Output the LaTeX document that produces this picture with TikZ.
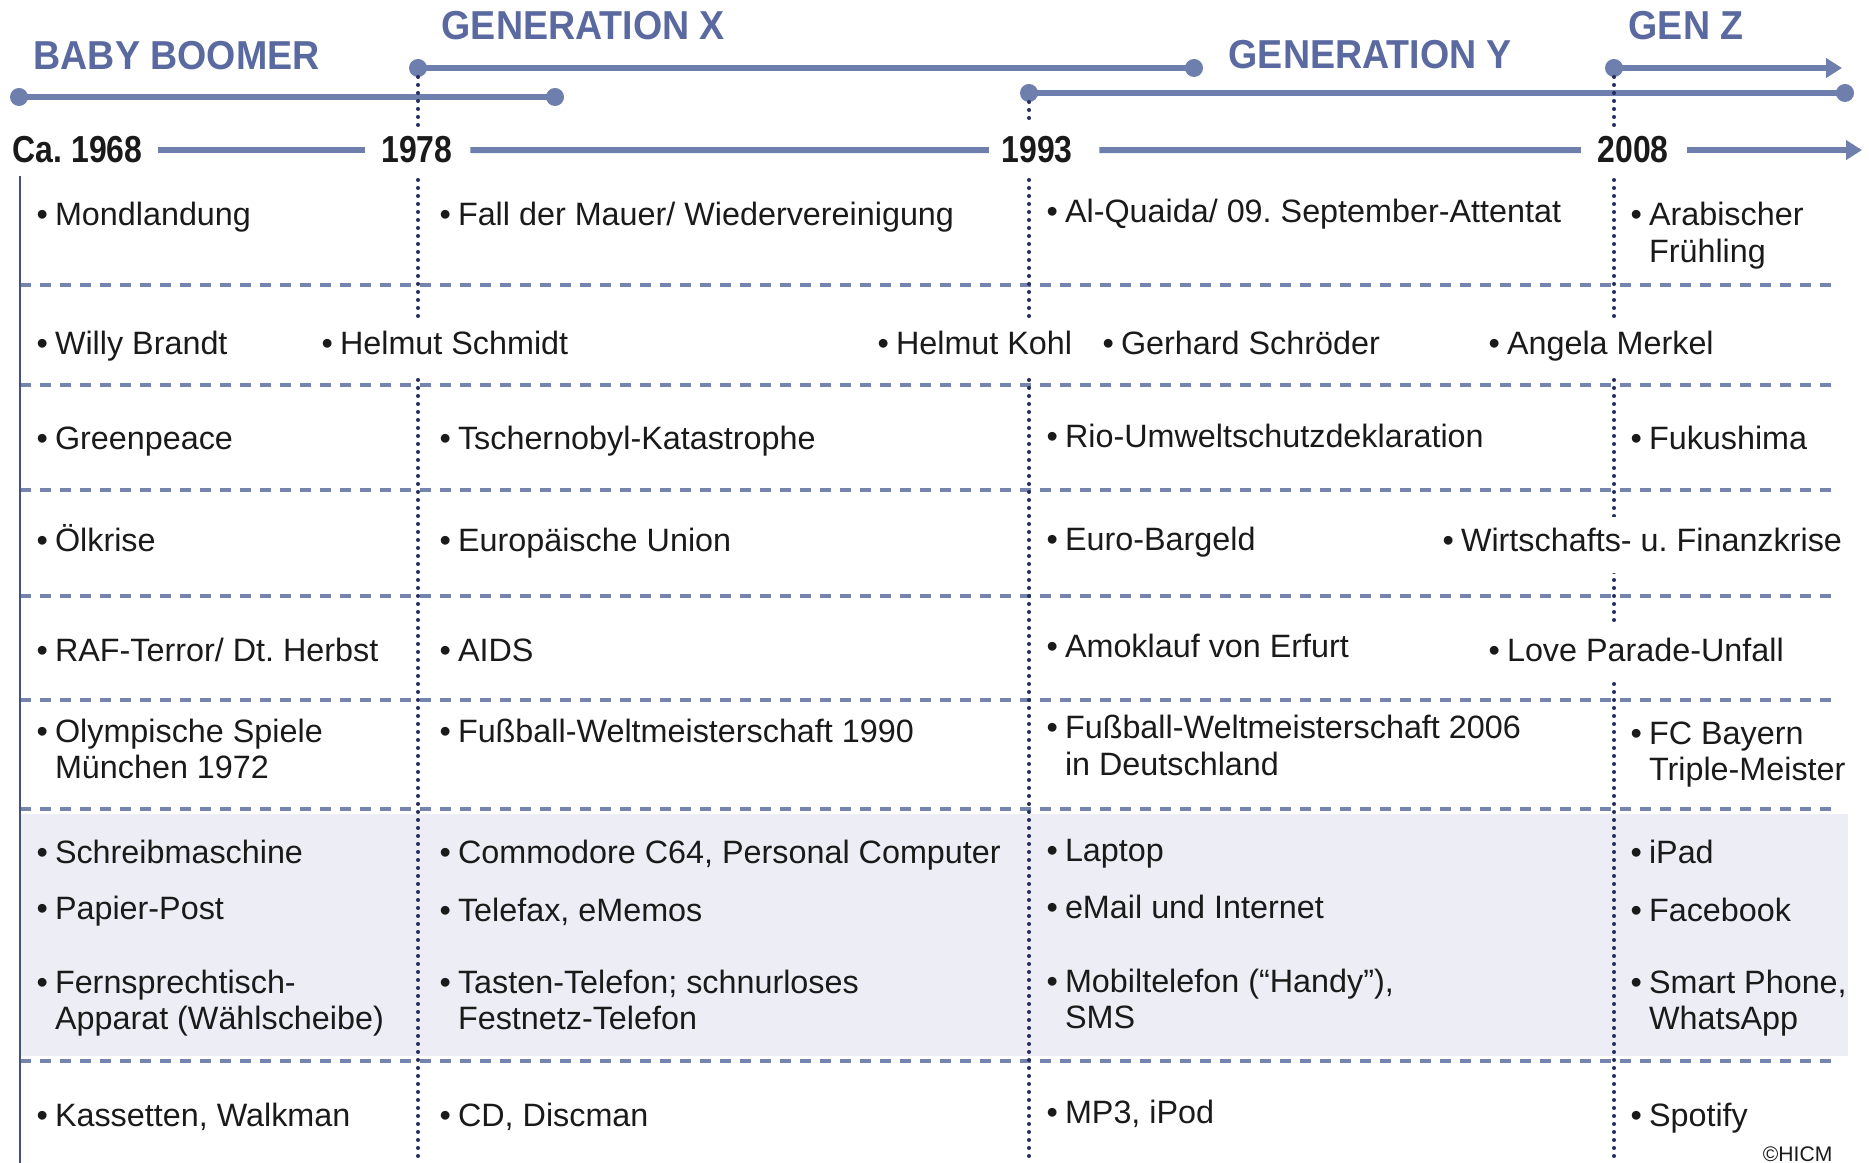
\documentclass[tikz,border=0pt]{standalone}
\usepackage{fontspec}
\setmainfont{Liberation Sans}
\newfontfamily\yearfont[FakeStretch=0.85]{Liberation Sans}
\newfontfamily\genfont[FakeStretch=0.93]{Liberation Sans}
\usepackage[dvipsnames]{xcolor}
\definecolor{GENcolor}{HTML}{5A69A0}
\definecolor{BARcolor}{HTML}{6F7FAD}
\definecolor{DASHcolor}{HTML}{7584AE}
\definecolor{DOTcolor}{HTML}{252E5E}
\definecolor{AXcolor}{HTML}{46527E}
\definecolor{BANDcolor}{HTML}{EDEEF5}
\definecolor{TXTcolor}{HTML}{1A1A1A}
\usetikzlibrary{arrows.meta}
\frenchspacing

\newcommand{\bul}[1]{\textbullet\hspace{0.7mm}\begin{tabular}[t]{@{}l@{}}#1\end{tabular}}

\begin{document}
\begin{tikzpicture}[x=0.1mm, y=-0.1mm]

    \tikzset{%
        genlbl/.style={anchor=base west, inner sep=0, text=GENcolor,
                font=\genfont\bfseries\fontsize{11.5}{12}\selectfont},
        yearlbl/.style={anchor=base, inner sep=0, text=TXTcolor,
                font=\yearfont\bfseries\fontsize{10.7}{12}\selectfont},
        genbar/.style={BARcolor, line width=1.7pt},
        itemlbl/.style={anchor=base west, inner sep=0, text=TXTcolor,
                font=\fontsize{9.2}{10.3}\selectfont},
        cutout/.style={fill=white, inner ysep=1mm},
        rowline/.style={DASHcolor, line width=1pt, dash pattern=on 1.1mm off 0.9mm},
        eraline/.style={DOTcolor, line width=1.15pt, line cap=round, dash pattern=on 0pt off 0.8mm},
    }

    \useasboundingbox (0, 0) rectangle (1869, 1163);

    % media band and row separators
    \fill [BANDcolor] (20, 814) rectangle (1848, 1056);
    \foreach \y in {285, 385, 490, 596, 700, 809, 1061} {%
            \draw [rowline] (20, \y) -- (1832, \y);
        }
    \draw [AXcolor, line width=0.8pt] (20, 176) -- (20, 1163);

    % generation bars
    \coordinate (bb0) at (19, 97);
    \coordinate (bb1) at (555, 97);
    \coordinate (gx0) at (418, 68);
    \coordinate (gx1) at (1194, 68);
    \coordinate (gy0) at (1029, 93);
    \coordinate (gy1) at (1845, 93);
    \coordinate (gz0) at (1614, 68);
    \coordinate (gz1) at (1842, 68);
    \draw [genbar] (bb0) -- (bb1);
    \draw [genbar] (gx0) -- (gx1);
    \draw [genbar] (gy0) -- (gy1);
    \draw [genbar, -{Triangle[length=1.6mm, width=1.9mm]}] (gz0) -- (gz1);
    \foreach \p in {bb0, bb1, gx0, gx1, gy0, gy1, gz0} {%
            \fill [BARcolor] (\p) circle [radius=0.9mm];
        }

    \node [genlbl] (bbtitle) at (33, 70) {BABY BOOMER};
    \node [genlbl] (gxtitle) at (441, 40) {GENERATION X};
    \node [genlbl] (gytitle) at (1228, 69) {GENERATION Y};
    \node [genlbl] (gztitle) at (1628, 40) {GEN Z};

    % era borders
    \foreach \x/\t in {418/68, 1029/93, 1614/68} {%
            \draw [eraline] (\x, \t+9) -- (\x, 125);
            \draw [eraline] (\x, 180) -- (\x, 1163);
        }

    % year axis
    \node [yearlbl, anchor=base west] (y68) at (12, 163) {Ca. 1968};
    \node [yearlbl] (y78) at (417, 163) {1978};
    \node [yearlbl] (y93) at (1037, 163) {1993};
    \node [yearlbl] (y08) at (1633, 163) {2008};
    \coordinate (axend) at (1862, 0);
    \draw [genbar, shorten <=1.5mm, shorten >=1.6mm] (y68) -- (y78);
    \draw [genbar, shorten <=1.7mm, shorten >=1.2mm] (y78) -- (y93);
    \draw [genbar, shorten <=2.6mm, shorten >=1.6mm] (y93) -- (y08);
    \draw [genbar, shorten <=1.8mm, -{Triangle[length=1.6mm, width=1.9mm]}] (y08) -- (y08 -| axend);

    % events
    \node [itemlbl] (r1a) at (36, 226) {\bul{Mondlandung}};
    \node [itemlbl] (r1b) at (439, 226) {\bul{Fall der Mauer/ Wiedervereinigung}};
    \node [itemlbl] (r1c) at (1046, 223) {\bul{Al-Quaida/ 09. September-Attentat}};
    \node [itemlbl] (r1d) at (1630, 226) {\bul{Arabischer\\Frühling}};

    \node [itemlbl] (r2a) at (36, 355) {\bul{Willy Brandt}};
    \node [itemlbl, cutout] (r2b) at (321, 355) {\bul{Helmut Schmidt}};
    \node [itemlbl, cutout] (r2c) at (877, 355) {\bul{Helmut Kohl}};
    \node [itemlbl] (r2d) at (1102, 355) {\bul{Gerhard Schröder}};
    \node [itemlbl, cutout] (r2e) at (1488, 355) {\bul{Angela Merkel}};

    \node [itemlbl] (r3a) at (36, 450) {\bul{Greenpeace}};
    \node [itemlbl] (r3b) at (439, 450) {\bul{Tschernobyl-Katastrophe}};
    \node [itemlbl] (r3c) at (1046, 448) {\bul{Rio-Umweltschutzdeklaration}};
    \node [itemlbl] (r3d) at (1630, 450) {\bul{Fukushima}};

    \node [itemlbl] (r4a) at (36, 552) {\bul{Ölkrise}};
    \node [itemlbl] (r4b) at (439, 552) {\bul{Europäische Union}};
    \node [itemlbl] (r4c) at (1046, 551) {\bul{Euro-Bargeld}};
    \node [itemlbl, cutout] (r4d) at (1442, 552) {\bul{Wirtschafts- u. Finanzkrise}};

    \node [itemlbl] (r5a) at (36, 661) {\bul{RAF-Terror/ Dt. Herbst}};
    \node [itemlbl] (r5b) at (439, 661) {\bul{AIDS}};
    \node [itemlbl] (r5c) at (1046, 658) {\bul{Amoklauf von Erfurt}};
    \node [itemlbl, cutout] (r5d) at (1488, 661) {\bul{Love Parade-Unfall}};

    \node [itemlbl] (r6a) at (36, 742) {\bul{Olympische Spiele\\München 1972}};
    \node [itemlbl] (r6b) at (439, 742) {\bul{Fußball-Weltmeisterschaft 1990}};
    \node [itemlbl] (r6c) at (1046, 739) {\bul{Fußball-Weltmeisterschaft 2006\\in Deutschland}};
    \node [itemlbl] (r6d) at (1630, 744) {\bul{FC Bayern\\Triple-Meister}};

    % media
    \node [itemlbl] (r7a) at (36, 863) {\bul{Schreibmaschine}};
    \node [itemlbl] (r7b) at (36, 919) {\bul{Papier-Post}};
    \node [itemlbl] (r7c) at (36, 993) {\bul{Fernsprechtisch-\\Apparat (Wählscheibe)}};
    \node [itemlbl] (r7d) at (439, 863) {\bul{Commodore C64, Personal Computer}};
    \node [itemlbl] (r7e) at (439, 921) {\bul{Telefax, eMemos}};
    \node [itemlbl] (r7f) at (439, 993) {\bul{Tasten-Telefon; schnurloses\\Festnetz-Telefon}};
    \node [itemlbl] (r7g) at (1046, 861) {\bul{Laptop}};
    \node [itemlbl] (r7h) at (1046, 918) {\bul{eMail und Internet}};
    \node [itemlbl] (r7i) at (1046, 992) {\bul{Mobiltelefon (“Handy”),\\SMS}};
    \node [itemlbl] (r7j) at (1630, 863) {\bul{iPad}};
    \node [itemlbl] (r7k) at (1630, 921) {\bul{Facebook}};
    \node [itemlbl] (r7l) at (1630, 993) {\bul{Smart Phone,\\WhatsApp}};

    \node [itemlbl] (r8a) at (36, 1126) {\bul{Kassetten, Walkman}};
    \node [itemlbl] (r8b) at (439, 1126) {\bul{CD, Discman}};
    \node [itemlbl] (r8c) at (1046, 1123) {\bul{MP3, iPod}};
    \node [itemlbl] (r8d) at (1630, 1126) {\bul{Spotify}};

    \node [anchor=base east, inner sep=0, text=TXTcolor, font=\fontsize{6}{7}\selectfont] (hicm) at (1833, 1161) {©HICM};

\end{tikzpicture}
\end{document}
